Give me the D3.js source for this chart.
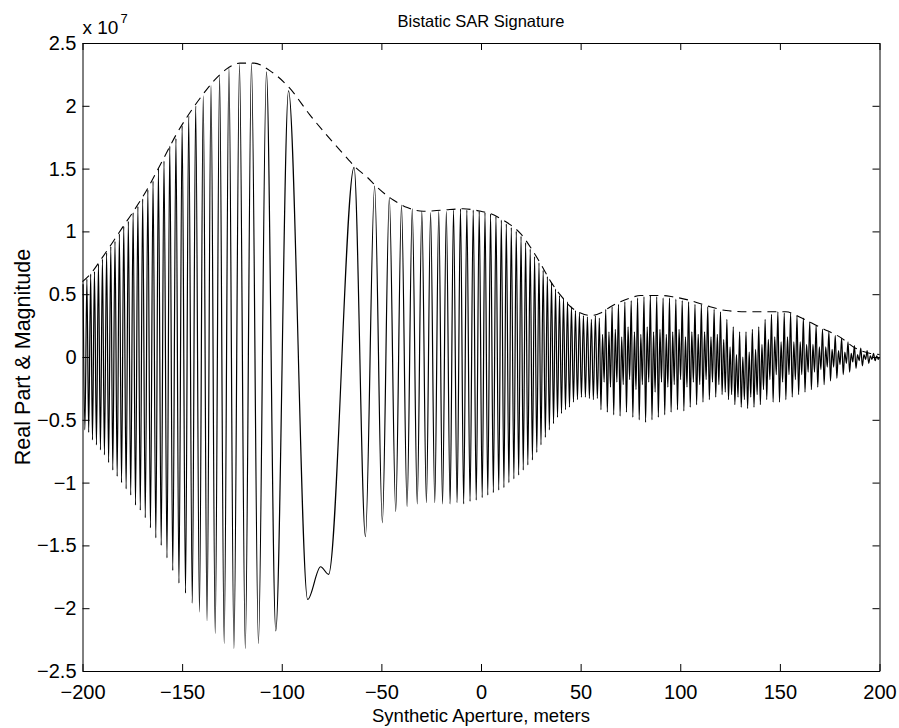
<!DOCTYPE html>
<meta charset="utf-8">
<head>
<style>
  body { margin: 0; background: #fff; }
  text { font-family: "Liberation Sans", Arial, Helvetica, sans-serif; fill: #000; }
</style>
</head>
<body>
<!-- Load d3.js -->
<script src="https://d3js.org/d3.v7.min.js"></script>

<div id="my_dataviz"></div>

<script>
// axis ticks (y in units of 1e7)
var xTicks = [-200, -150, -100, -50, 0, 50, 100, 150, 200];
var yTicks = [-2.5, -2, -1.5, -1, -0.5, 0, 0.5, 1, 1.5, 2, 2.5];

// real part, left chirp: local maxima / minima
var leftX = [-199.7,-198.8,-197.8,-196.9,-195.9,-195.0,-194.0,-193.0,-192.0,-191.0,
  -190.0,-189.0,-187.9,-186.9,-185.8,-184.8,-183.7,-182.6,-181.5,-180.4,
  -179.3,-178.1,-177.0,-175.8,-174.6,-173.4,-172.2,-171.0,-169.8,-168.5,
  -167.2,-165.9,-164.6,-163.2,-161.9,-160.5,-159.1,-157.6,-156.2,-154.7,
  -153.1,-151.6,-150.0,-148.3,-146.7,-144.9,-143.2,-141.3,-139.4,-137.5,
  -135.5,-133.4,-131.2,-128.9,-126.5,-124.0,-121.2,-118.3,-115.2,-111.7,
  -107.7,-103.0,-96.6];
var leftY = [0.58,-0.58,0.62,-0.60,0.66,-0.66,0.68,-0.70,0.74,-0.74,
  0.78,-0.78,0.83,-0.84,0.88,-0.90,0.92,-0.95,0.98,-1.00,
  1.04,-1.05,1.08,-1.10,1.15,-1.18,1.20,-1.22,1.26,-1.28,
  1.33,-1.36,1.40,-1.44,1.50,-1.50,1.56,-1.60,1.68,-1.70,
  1.74,-1.80,1.84,-1.88,1.92,-1.96,2.00,-2.03,2.08,-2.10,
  2.16,-2.20,2.24,-2.28,2.30,-2.32,2.33,-2.32,2.34,-2.28,
  2.27,-2.18,2.12];

// the slow part around the stationary point
var midX = [-87.0, -80.5, -76.5];
var midY = [-1.93, -1.67, -1.73];

// right chirp up to x = 38
var rightX = [-63.7,-58.0,-53.4,-49.5,-46.0,-42.8,-39.9,-37.1,-34.5,-32.0,
  -29.7,-27.4,-25.3,-23.2,-21.2,-19.3,-17.4,-15.5,-13.8,-12.0,
  -10.3,-8.7,-7.1,-5.5,-3.9,-2.4,-0.9,0.6,2.0,3.4,
  4.8,6.2,7.5,8.9,10.2,11.5,12.7,14.0,15.2,16.5,
  17.7,18.9,20.1,21.2,22.4,23.5,24.7,25.8,26.9,28.0,
  29.1,30.1,31.2,32.3,33.3,34.3,35.4,36.4,37.4,38.4];
var rightY = [1.51,-1.43,1.36,-1.32,1.27,-1.23,1.21,-1.19,1.18,-1.17,
  1.16,-1.16,1.15,-1.16,1.16,-1.17,1.16,-1.17,1.17,-1.16,
  1.18,-1.17,1.17,-1.15,1.17,-1.14,1.16,-1.12,1.15,-1.10,
  1.14,-1.08,1.12,-1.06,1.09,-1.04,1.06,-1.00,1.03,-0.97,
  1.00,-0.94,0.96,-0.90,0.91,-0.86,0.86,-0.82,0.80,-0.76,
  0.75,-0.70,0.69,-0.64,0.64,-0.58,0.59,-0.53,0.54,-0.48];

// dense tail, 39..60
var tailX = [39.4,40.4,41.4,42.4,43.4,44.4,45.4,46.4,47.4,48.4,
  49.4,50.4,51.4,52.4,53.4,54.4,55.4,56.4,57.4,58.4,59.4];
var tailY = [0.49,-0.45,0.47,-0.42,0.44,-0.40,0.40,-0.36,0.37,-0.34,
  0.35,-0.32,0.33,-0.32,0.32,-0.33,0.30,-0.34,0.33,-0.33,0.31];

// mixed returns, 60..200
var mixX = [60.2,61.0,61.8,62.6,63.4,64.2,65.0,65.8,66.6,67.4,
  68.2,69.0,69.8,70.6,71.4,72.2,73.0,73.8,74.6,75.4,
  76.2,77.0,77.8,78.6,79.4,80.2,81.0,81.8,82.6,83.4,
  84.2,85.0,85.8,86.6,87.4,88.2,89.0,89.8,90.6,91.4,
  92.2,93.0,93.8,94.6,95.4,96.2,97.0,97.8,98.6,99.4,
  100.2,101.0,101.8,102.6,103.4,104.2,105.0,105.8,106.6,107.4,
  108.2,109.0,109.8,110.6,111.4,112.2,113.0,113.8,114.6,115.4,
  116.2,117.0,117.8,118.6,119.4,120.2,121.0,121.8,122.6,123.4,
  124.2,125.0,125.8,126.6,127.4,128.2,129.0,129.8,130.6,131.4,
  132.2,133.0,133.8,134.6,135.4,136.2,137.0,137.8,138.6,139.4,
  140.2,141.0,141.8,142.6,143.4,144.2,145.0,145.8,146.6,147.4,
  148.2,149.0,149.8,150.6,151.4,152.2,153.0,153.8,154.6,155.4,
  156.2,157.0,157.8,158.6,159.4,160.2,161.0,161.8,162.6,163.4,
  164.2,165.0,165.8,166.6,167.4,168.2,169.0,169.8,170.6,171.4,
  172.2,173.0,173.8,174.6,175.4,176.2,177.0,177.8,178.6,179.4,
  180.2,181.0,181.8,182.6,183.4,184.2,185.0,185.8,186.6,187.4,
  188.2,189.0,189.8,190.6,191.4,192.2,193.0,193.8,194.6,195.4,
  196.2,197.0,197.8,198.6,199.4,200.0];
var mixY = [-0.42,0.18,-0.20,0.38,-0.44,0.20,-0.24,0.40,-0.46,0.22,
  -0.20,0.42,-0.47,0.16,-0.22,0.44,-0.44,0.24,-0.18,0.45,
  -0.48,0.20,-0.26,0.47,-0.50,0.18,-0.22,0.48,-0.52,0.24,
  -0.20,0.49,-0.50,0.20,-0.28,0.48,-0.48,0.22,-0.20,0.47,
  -0.46,0.18,-0.24,0.47,-0.44,0.20,-0.22,0.46,-0.42,0.22,
  -0.18,0.45,-0.43,0.16,-0.24,0.44,-0.40,0.20,-0.20,0.42,
  -0.38,0.18,-0.22,0.42,-0.36,0.20,-0.18,0.40,-0.34,0.16,
  -0.20,0.38,-0.32,0.18,-0.22,0.36,-0.30,0.14,-0.28,0.30,
  -0.34,0.08,-0.30,0.24,-0.38,0.02,-0.32,0.20,-0.40,0.00,
  -0.34,0.20,-0.41,0.04,-0.32,0.22,-0.40,0.06,-0.30,0.24,
  -0.38,0.10,-0.26,0.30,-0.34,0.14,-0.18,0.34,-0.36,0.16,
  -0.14,0.36,-0.36,0.12,-0.20,0.35,-0.34,0.16,-0.14,0.35,
  -0.32,0.12,-0.18,0.33,-0.30,0.12,-0.14,0.31,-0.28,0.10,
  -0.12,0.28,-0.26,0.10,-0.12,0.25,-0.24,0.08,-0.10,0.22,
  -0.22,0.08,-0.08,0.20,-0.19,0.06,-0.08,0.17,-0.17,0.05,
  -0.06,0.15,-0.14,0.04,-0.05,0.12,-0.12,0.03,-0.04,0.09,
  -0.09,0.02,-0.03,0.07,-0.07,0.02,-0.02,0.05,-0.05,0.01,
  -0.02,0.03,-0.03,0.01,-0.02,0.00];

// magnitude (dashed)
var envX = [-200,-195,-191,-185,-180,-174,-167,-163,-158,-153,-148,-141,-134,-128,-121,-114,-106,-96,-86,-76,
  -67,-63,-57,-52,-44,-37,-29,-19,-9,0,5,10,15,20,25,30,35,40,45,50,
  55,60,65,70,75,80,85,90,96,105,115,123,133,145,153,161,166,171,180,188,195,200];
var envY = [0.60,0.68,0.77,0.91,1.03,1.17,1.35,1.47,1.62,1.77,1.90,2.06,2.20,2.29,2.34,2.34,2.28,2.14,1.93,1.74,
  1.58,1.51,1.43,1.35,1.25,1.19,1.16,1.17,1.18,1.16,1.14,1.10,1.05,0.98,0.87,0.74,0.60,0.49,0.40,0.35,
  0.33,0.35,0.40,0.44,0.47,0.49,0.49,0.49,0.48,0.45,0.40,0.37,0.36,0.36,0.36,0.31,0.27,0.23,0.16,0.07,0.03,0.02];

// set the dimensions and margins of the graph
var margin = {top: 43, right: 19.5, bottom: 57, left: 82.5},
    width = 899 - margin.left - margin.right,
    height = 728 - margin.top - margin.bottom;

var svg = d3.select("#my_dataviz")
  .append("svg")
    .attr("width", 899)
    .attr("height", 728)
  .append("g")
    .attr("transform", "translate(" + margin.left + "," + margin.top + ")");

var x = d3.scaleLinear().domain([-200, 200]).range([0, width]);
var y = d3.scaleLinear().domain([-2.5, 2.5]).range([height, 0]);

var fmt = d3.format("");

// the four sides, ticks pointing inwards
svg.append("g")
    .attr("transform", "translate(0," + height + ")")
    .call(d3.axisBottom(x).tickValues(xTicks).tickFormat(fmt).tickSizeInner(-7).tickSizeOuter(0).tickPadding(14));
svg.append("g")
    .call(d3.axisTop(x).tickValues(xTicks).tickFormat("").tickSizeInner(-7).tickSizeOuter(0));
svg.append("g")
    .call(d3.axisLeft(y).tickValues(yTicks).tickFormat(fmt).tickSizeInner(-7).tickSizeOuter(0).tickPadding(6));
svg.append("g")
    .attr("transform", "translate(" + width + ",0)")
    .call(d3.axisRight(y).tickValues(yTicks).tickFormat("").tickSizeInner(-7).tickSizeOuter(0));

svg.selectAll(".domain").attr("stroke", "#000");
svg.selectAll(".tick line").attr("stroke", "#000");
svg.selectAll(".tick text").attr("font-size", "20px").attr("font-family", "Liberation Sans, Arial, sans-serif");

// real part
var signal = d3.zip(leftX, leftY)
  .concat(d3.zip(midX, midY))
  .concat(d3.zip(rightX, rightY))
  .concat(d3.zip(tailX, tailY))
  .concat(d3.zip(mixX, mixY));

var line = d3.line()
    .x(function(d) { return x(d[0]); })
    .y(function(d) { return y(d[1]); })
    .curve(d3.curveMonotoneX);

svg.append("path")
    .datum(signal)
    .attr("fill", "none")
    .attr("stroke", "#000")
    .attr("stroke-width", 1.2)
    .attr("d", line);

// magnitude
svg.append("path")
    .datum(d3.zip(envX, envY))
    .attr("fill", "none")
    .attr("stroke", "#000")
    .attr("stroke-width", 1.1)
    .attr("stroke-dasharray", "9,6")
    .attr("d", line);

// exponent
var expo = svg.append("text")
    .attr("x", 0)
    .attr("y", -9)
    .attr("font-size", "19px");
expo.append("tspan").text("x 10");
expo.append("tspan").attr("dx", 2).attr("dy", -11).attr("font-size", "13px").text("7");

// title and labels
svg.append("text")
    .attr("x", width / 2)
    .attr("y", -16)
    .attr("text-anchor", "middle")
    .attr("font-size", "16.5px")
    .text("Bistatic SAR Signature");

svg.append("text")
    .attr("x", width / 2)
    .attr("y", height + 51)
    .attr("text-anchor", "middle")
    .attr("font-size", "18.5px")
    .text("Synthetic Aperture, meters");

svg.append("text")
    .attr("transform", "rotate(-90)")
    .attr("x", -height / 2)
    .attr("y", -53)
    .attr("text-anchor", "middle")
    .attr("font-size", "21.5px")
    .text("Real Part & Magnitude");
</script>
</body>
